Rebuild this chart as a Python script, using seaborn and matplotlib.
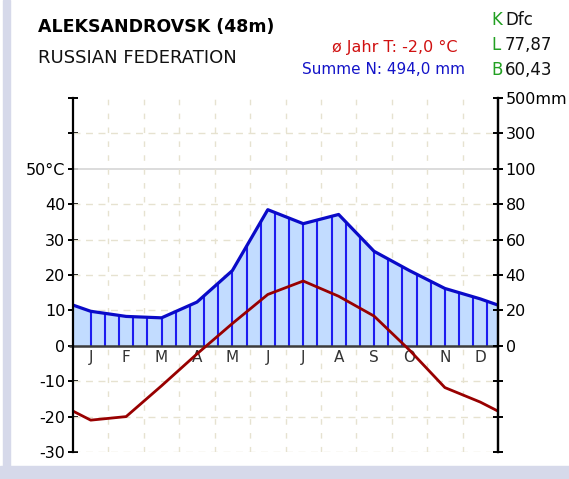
import numpy as np
import pandas as pd
import matplotlib
matplotlib.use("Agg")
import matplotlib.pyplot as plt
from matplotlib.patches import Rectangle
import seaborn as sns

months = ["J", "F", "M", "A", "M", "J", "J", "A", "S", "O", "N", "D"]
temp = [-21.0, -20.0, -11.3, -2.3, 6.3, 14.5, 18.3, 14.0, 8.4, -1.2, -11.8, -15.9]
precip = [19.5, 16.6, 15.8, 24.7, 42.5, 76.9, 69.0, 74.2, 53.4, 42.5, 32.4, 26.5]

left_ticks = [-30, -20, -10, 0, 10, 20, 30, 40, 50, 60, 70]
left_labels = ["-30", "-20", "-10", "0", "10", "20", "30", "40", "50°C", "", ""]
right_labels = ["", "", "", "0", "20", "40", "60", "80", "100", "300", "500mm"]

station = "ALEKSANDROVSK (48m)"
country = "RUSSIAN FEDERATION"
mean_text = "ø Jahr T: -2,0 °C"
sum_text = "Summe N: 494,0 mm"
klima = [("K", "Dfc"), ("L", "77,87"), ("B", "60,43")]

BLUE = "#0a0ac8"
HATCH = "#1c1cf0"
FILL = "#c2dcff"
RED = "#980000"
GRID = "#e6e2d0"
GREEN = "#22a022"


def scale_p(p):
    p = np.asarray(p, dtype=float)
    return np.where(p <= 100, p / 2.0, 50 + (p - 100) / 20.0)


# month centres, plus the year wrap at both edges
xc = np.arange(12) + 0.5
t_edge = (temp[0] + temp[-1]) / 2
p_edge = (precip[0] + precip[-1]) / 2
x_full = np.concatenate([[0], xc, [12]])
t_full = np.concatenate([[t_edge], temp, [t_edge]])
p_full = scale_p(np.concatenate([[p_edge], precip, [p_edge]]))

df_t = pd.DataFrame({"x": x_full, "y": t_full})
df_p = pd.DataFrame({"x": x_full, "y": p_full})

sns.set_style("white")
plt.rcParams["font.family"] = ["DejaVu Sans"]

W, H = 569, 479
fig = plt.figure(figsize=(W / 100, H / 100), dpi=100)
fig.patch.set_facecolor("white")
fig.patches.append(Rectangle((3 / W, 0), 7 / W, 1, transform=fig.transFigure,
                             color="#d6d9ea", zorder=0))
fig.patches.append(Rectangle((0, 0), 1, 13 / H, transform=fig.transFigure,
                             color="#d6d9ea", zorder=0))

ax = fig.add_axes([73 / W, 1 - 452 / H, 425 / W, 354 / H])
ax.set_xlim(0, 12)
ax.set_ylim(-30, 70)
ax.set_facecolor("none")

# grid
for yv in [-30, -20, -10, 10, 20, 30, 40, 60]:
    ax.hlines(yv, 0, 12, color=GRID, lw=1, linestyle=(0, (5, 4)), zorder=1)
ax.hlines(50, 0, 12, color="#d9d9d9", lw=1.3, zorder=1)
for xv in range(1, 12):
    ax.vlines(xv, -30, 70, color=GRID, lw=1, linestyle=(0, (4, 6)), zorder=1)

# precipitation area with vertical hatching
ax.fill_between(x_full, 0, p_full, color=FILL, lw=0, zorder=2)
xh = 0.5 + 0.4 * np.arange(29)
ax.vlines(xh, 0, np.interp(xh, x_full, p_full), color=HATCH, lw=1.5, zorder=3)

ax.hlines(0, -0.12, 12, color="#3c3c3c", lw=1.8, zorder=4, clip_on=False)

sns.lineplot(data=df_p, x="x", y="y", ax=ax, color=BLUE, lw=2.3, sort=False, zorder=5)
sns.lineplot(data=df_t, x="x", y="y", ax=ax, color=RED, lw=2.0, sort=False, zorder=6)

for i, m in enumerate(months):
    ax.text(xc[i], -3.3, m, ha="center", va="center", fontsize=11, color="#333333")

for s in ["top", "bottom"]:
    ax.spines[s].set_visible(False)
for s in ["left", "right"]:
    ax.spines[s].set_color("black")
    ax.spines[s].set_linewidth(1.6)
    ax.spines[s].set_zorder(7)

ax.set_xticks([])
ax.set_xlabel("")
ax.set_ylabel("")
ax.set_yticks(left_ticks)
ax.set_yticklabels(left_labels)
ax.tick_params(axis="y", which="major", direction="inout", length=7, width=1.4,
               labelsize=11.5, pad=2, colors="black", left=True, right=False)

ax2 = ax.twinx()
ax2.set_ylim(-30, 70)
ax2.set_yticks(left_ticks)
ax2.set_yticklabels(right_labels)
ax2.tick_params(axis="y", direction="inout", length=7, width=1.4, labelsize=11.5,
                pad=2, colors="black")
for s in ["top", "bottom", "left"]:
    ax2.spines[s].set_visible(False)
ax2.spines["right"].set_linewidth(1.6)
ax2.spines["right"].set_color("black")


def ftxt(x, y, s, **kw):
    fig.text(x / W, 1 - y / H, s, va="center", **kw)


ftxt(38, 27, station, fontsize=12.5, fontweight="bold", color="black")
ftxt(38, 58, country, fontsize=13, color="#111111")
ftxt(458, 47, mean_text, fontsize=11.5, color="#d01010", ha="right")
ftxt(465, 70, sum_text, fontsize=11, color="#1414c8", ha="right")
for j, (k, v) in enumerate(klima):
    yy = 20 + 25 * j
    ftxt(491, yy, k, fontsize=12, color=GREEN)
    ftxt(505, yy, v, fontsize=12, color="#111111")

fig.savefig("out.png", dpi=100, facecolor="white")
